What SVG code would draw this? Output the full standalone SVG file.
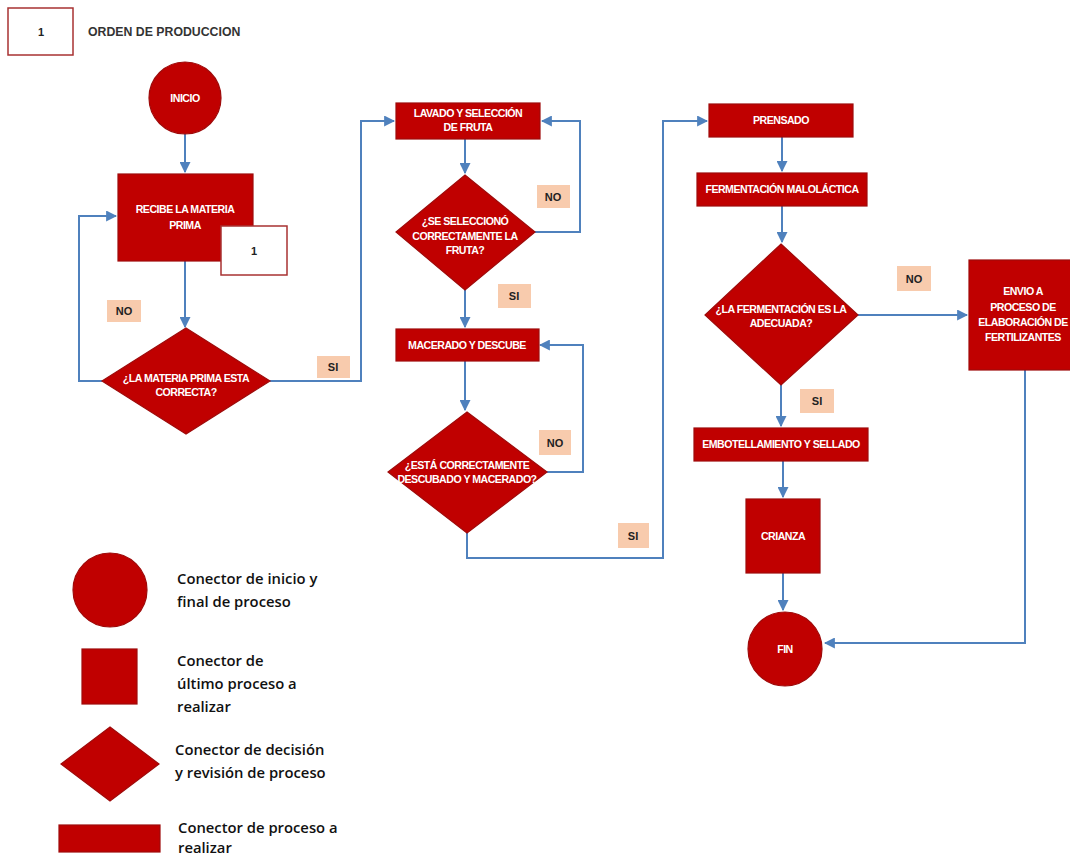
<svg xmlns="http://www.w3.org/2000/svg" width="1070" height="858" viewBox="0 0 1070 858">
<style>
.n{fill:#C00000;stroke:#9E0A0A;stroke-width:1.2}
.t{font-family:"Liberation Sans",Arial,sans-serif;font-weight:bold;font-size:10.6px;fill:#fff;text-anchor:middle;letter-spacing:-0.5px}
.c{fill:none;stroke:#4F81BD;stroke-width:2}
.lb{fill:#F8CBAD}
.lt{font-family:"Liberation Sans",Arial,sans-serif;font-weight:bold;font-size:11px;fill:#222;text-anchor:middle}
.lg{font-family:"Open Sans","Liberation Sans",sans-serif;font-weight:600;font-size:14.8px;fill:#111}
.wb{fill:#fff;stroke:#A83232;stroke-width:1.5}
</style>
<defs>
<marker id="ah" viewBox="0 0 10 10" refX="9" refY="5" markerWidth="11" markerHeight="11" markerUnits="userSpaceOnUse" orient="auto">
<path d="M0,0 L10,5 L0,10 z" fill="#4F81BD"/>
</marker>
</defs>
<rect width="1070" height="858" fill="#fff"/>

<g id="legend-top">
<rect class="wb" x="8" y="8" width="65" height="47"/>
<text class="lt" x="41" y="36">1</text>
<text x="88" y="36" font-family="Liberation Sans,Arial,sans-serif" font-weight="bold" font-size="12.3" fill="#333">ORDEN DE PRODUCCION</text>
</g>

<g id="connectors">
<path class="c" d="M185,134 V172" marker-end="url(#ah)"/>
<path class="c" d="M185,261 V327" marker-end="url(#ah)"/>
<path class="c" d="M102,381 H79 V216 H116" marker-end="url(#ah)"/>
<path class="c" d="M270,381 H361 V121 H394" marker-end="url(#ah)"/>
<path class="c" d="M465,139 V173" marker-end="url(#ah)"/>
<path class="c" d="M535,232 H580 V121 H542" marker-end="url(#ah)"/>
<path class="c" d="M465,290 V327" marker-end="url(#ah)"/>
<path class="c" d="M465,361 V410" marker-end="url(#ah)"/>
<path class="c" d="M547,472 H583 V345 H540" marker-end="url(#ah)"/>
<path class="c" d="M467,533 V558 H663 V121 H707" marker-end="url(#ah)"/>
<path class="c" d="M782,137 V171" marker-end="url(#ah)"/>
<path class="c" d="M782,206 V242" marker-end="url(#ah)"/>
<path class="c" d="M858,315 H967" marker-end="url(#ah)"/>
<path class="c" d="M781,385 V426" marker-end="url(#ah)"/>
<path class="c" d="M783,461 V497" marker-end="url(#ah)"/>
<path class="c" d="M783,573 V610" marker-end="url(#ah)"/>
<path class="c" d="M1025,370 V643 H825" marker-end="url(#ah)"/>
</g>

<g id="labels">
<rect class="lb" x="107" y="300" width="34" height="22"/><text class="lt" x="124" y="315">NO</text>
<rect class="lb" x="317" y="356" width="33" height="22"/><text class="lt" x="333" y="371">SI</text>
<rect class="lb" x="537" y="185" width="33" height="23"/><text class="lt" x="553" y="201">NO</text>
<rect class="lb" x="498" y="284" width="33" height="24"/><text class="lt" x="514" y="300">SI</text>
<rect class="lb" x="539" y="430" width="32" height="25"/><text class="lt" x="555" y="447">NO</text>
<rect class="lb" x="618" y="523" width="31" height="25"/><text class="lt" x="633" y="540">SI</text>
<rect class="lb" x="897" y="266" width="34" height="25"/><text class="lt" x="914" y="283">NO</text>
<rect class="lb" x="800" y="389" width="34" height="24"/><text class="lt" x="817" y="405">SI</text>
</g>

<g id="inicio">
<circle class="n" cx="185" cy="98" r="36"/>
<text class="t" x="185" y="102">INICIO</text>
</g>

<g id="recibe">
<rect class="n" x="118" y="174" width="135" height="87"/>
<text class="t" x="185" y="213">RECIBE LA MATERIA</text>
<text class="t" x="185" y="229">PRIMA</text>
</g>

<g id="orden-1">
<rect class="wb" x="221" y="226" width="66" height="49"/>
<text class="lt" x="254" y="255">1</text>
</g>

<g id="decision-materia">
<polygon class="n" points="186,328 270,381 186,434 102,381"/>
<text class="t" x="186" y="382">¿LA MATERIA PRIMA ESTA</text>
<text class="t" x="186" y="396">CORRECTA?</text>
</g>

<g id="lavado">
<rect class="n" x="396" y="103" width="144" height="36"/>
<text class="t" x="468" y="117">LAVADO Y SELECCIÓN</text>
<text class="t" x="468" y="131">DE FRUTA</text>
</g>

<g id="decision-fruta">
<polygon class="n" points="465,175 535,232 465,290 396,232"/>
<text class="t" x="465" y="225">¿SE SELECCIONÓ</text>
<text class="t" x="465" y="240">CORRECTAMENTE LA</text>
<text class="t" x="465" y="254">FRUTA?</text>
</g>

<g id="macerado">
<rect class="n" x="396" y="329" width="143" height="32"/>
<text class="t" x="467" y="349">MACERADO Y DESCUBE</text>
</g>

<g id="decision-descube">
<polygon class="n" points="467,412 547,472 467,533 388,472"/>
<text class="t" x="467" y="469">¿ESTÁ CORRECTAMENTE</text>
<text class="t" x="467" y="483">DESCUBADO Y MACERADO?</text>
</g>

<g id="prensado">
<rect class="n" x="709" y="104" width="144" height="33"/>
<text class="t" x="781" y="124">PRENSADO</text>
</g>

<g id="fermentacion">
<rect class="n" x="697" y="173" width="170" height="33"/>
<text class="t" x="782" y="193">FERMENTACIÓN MALOLÁCTICA</text>
</g>

<g id="decision-fermentacion">
<polygon class="n" points="781,244 858,315 781,385 705,315"/>
<text class="t" x="781" y="313">¿LA FERMENTACIÓN ES LA</text>
<text class="t" x="781" y="327">ADECUADA?</text>
</g>

<g id="envio">
<rect class="n" x="969" y="260" width="110" height="110"/>
<text class="t" x="1023" y="295">ENVIO A</text>
<text class="t" x="1023" y="311">PROCESO DE</text>
<text class="t" x="1023" y="326">ELABORACIÓN DE</text>
<text class="t" x="1023" y="341">FERTILIZANTES</text>
</g>

<g id="embotellamiento">
<rect class="n" x="694" y="428" width="174" height="33"/>
<text class="t" x="781" y="448">EMBOTELLAMIENTO Y SELLADO</text>
</g>

<g id="crianza">
<rect class="n" x="746" y="499" width="74" height="74"/>
<text class="t" x="783" y="540">CRIANZA</text>
</g>

<g id="fin">
<circle class="n" cx="785" cy="649" r="37"/>
<text class="t" x="785" y="653">FIN</text>
</g>

<g id="legend">
<circle class="n" cx="110" cy="590" r="37"/>
<text class="lg" x="177" y="584">Conector de inicio y</text>
<text class="lg" x="177" y="607">final de proceso</text>
<rect class="n" x="82" y="649" width="55" height="55"/>
<text class="lg" x="177" y="666">Conector de</text>
<text class="lg" x="177" y="689">último proceso a</text>
<text class="lg" x="177" y="712">realizar</text>
<polygon class="n" points="110,727 159,764 110,801 61,764"/>
<text class="lg" x="175" y="755">Conector de decisión</text>
<text class="lg" x="175" y="778">y revisión de proceso</text>
<rect class="n" x="59" y="825" width="101" height="27"/>
<text class="lg" x="178" y="833">Conector de proceso a</text>
<text class="lg" x="178" y="853">realizar</text>
</g>
</svg>
